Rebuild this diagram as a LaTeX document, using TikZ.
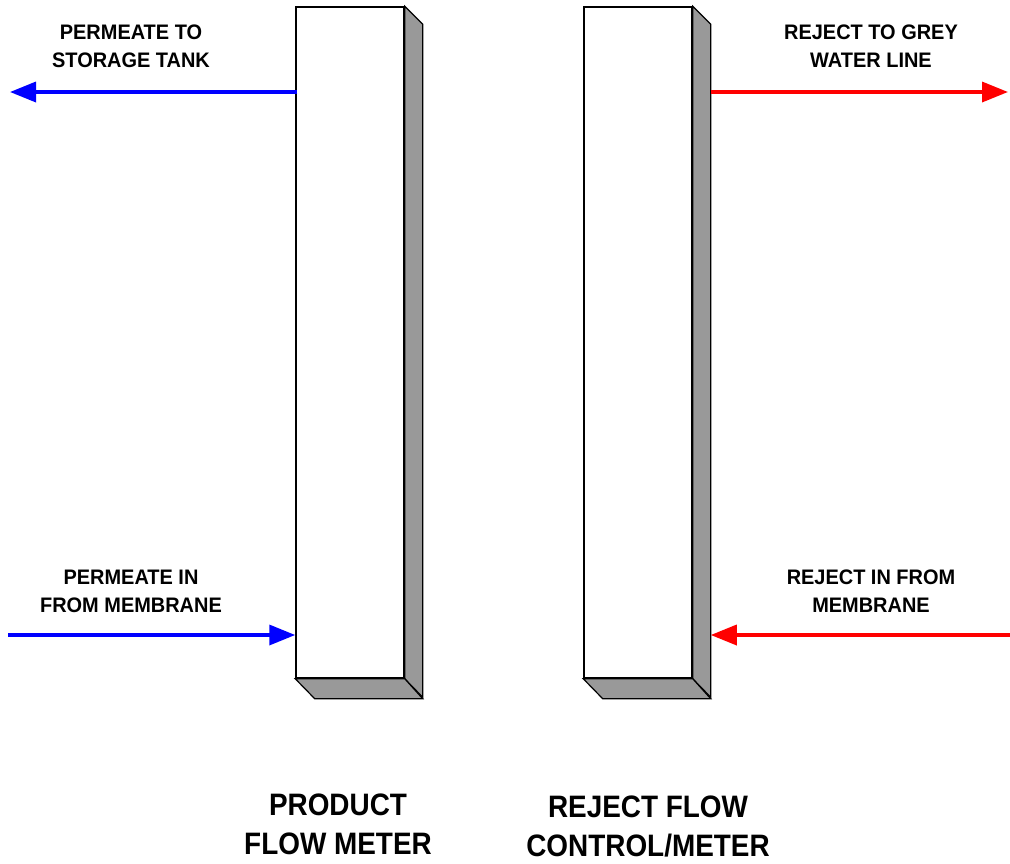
\documentclass[tikz,border=0pt]{standalone}
\usepackage{fontspec}
\setmainfont{Liberation Sans}
\usetikzlibrary{arrows.meta}
\begin{document}
\begin{tikzpicture}[x=1pt,y=-1pt]
\tikzstyle{meter}=[draw,line width=1.5pt,fill=white,minimum width=108pt,minimum height=671pt,inner sep=0pt]
\tikzstyle{shade}=[draw,line width=1.2pt,fill=black!40]
\tikzstyle{flow}=[line width=3.5pt,-{Triangle[length=26pt,width=20pt]}]
\tikzstyle{lbl}=[align=center,xscale=0.95,font=\bfseries\fontsize{21}{28}\selectfont]
\tikzstyle{big}=[align=center,xscale=0.9,font=\bfseries\fontsize{31}{39}\selectfont]
\useasboundingbox (0,0) rectangle (1010,863);
\node[meter] at (350,342.5) (prod) {};
\node[meter] at (638,342.5) (rej) {};
\foreach \m in {prod,rej} {
  \draw[shade] (\m.north east) -- ++(18,18) -- ++(0,673) -- (\m.south east) -- cycle;
  \draw[shade] (\m.south west) -- (\m.south east) -- ++(18,20) -- ++(-108,0) -- cycle;
}
\coordinate (pout) at (10,92);
\coordinate (pin) at (8,635);
\coordinate (rout) at (1008,92);
\coordinate (rin) at (1010,635);
\draw[flow,blue] (prod.west |- pout) ++(2,0) -- (pout);
\draw[flow,blue] (pin) -- (prod.west |- pin);
\draw[flow,red] ([xshift=18pt]rej.east |- rout) -- (rout);
\draw[flow,red] (rin) -- ([xshift=18pt]rej.east |- rin);
\node[lbl] at (131,46) (ptank) {PERMEATE TO\\STORAGE TANK};
\node[lbl] at (131,591) (pmem) {PERMEATE IN\\FROM MEMBRANE};
\node[lbl] at (871,46) (rgrey) {REJECT TO GREY\\WATER LINE};
\node[lbl] at (871,591) (rmem) {REJECT IN FROM\\MEMBRANE};
\node[big] at (338,824) (prodname) {PRODUCT\\FLOW METER};
\node[big] at (648,826) (rejname) {REJECT FLOW\\CONTROL/METER};
\end{tikzpicture}
\end{document}
